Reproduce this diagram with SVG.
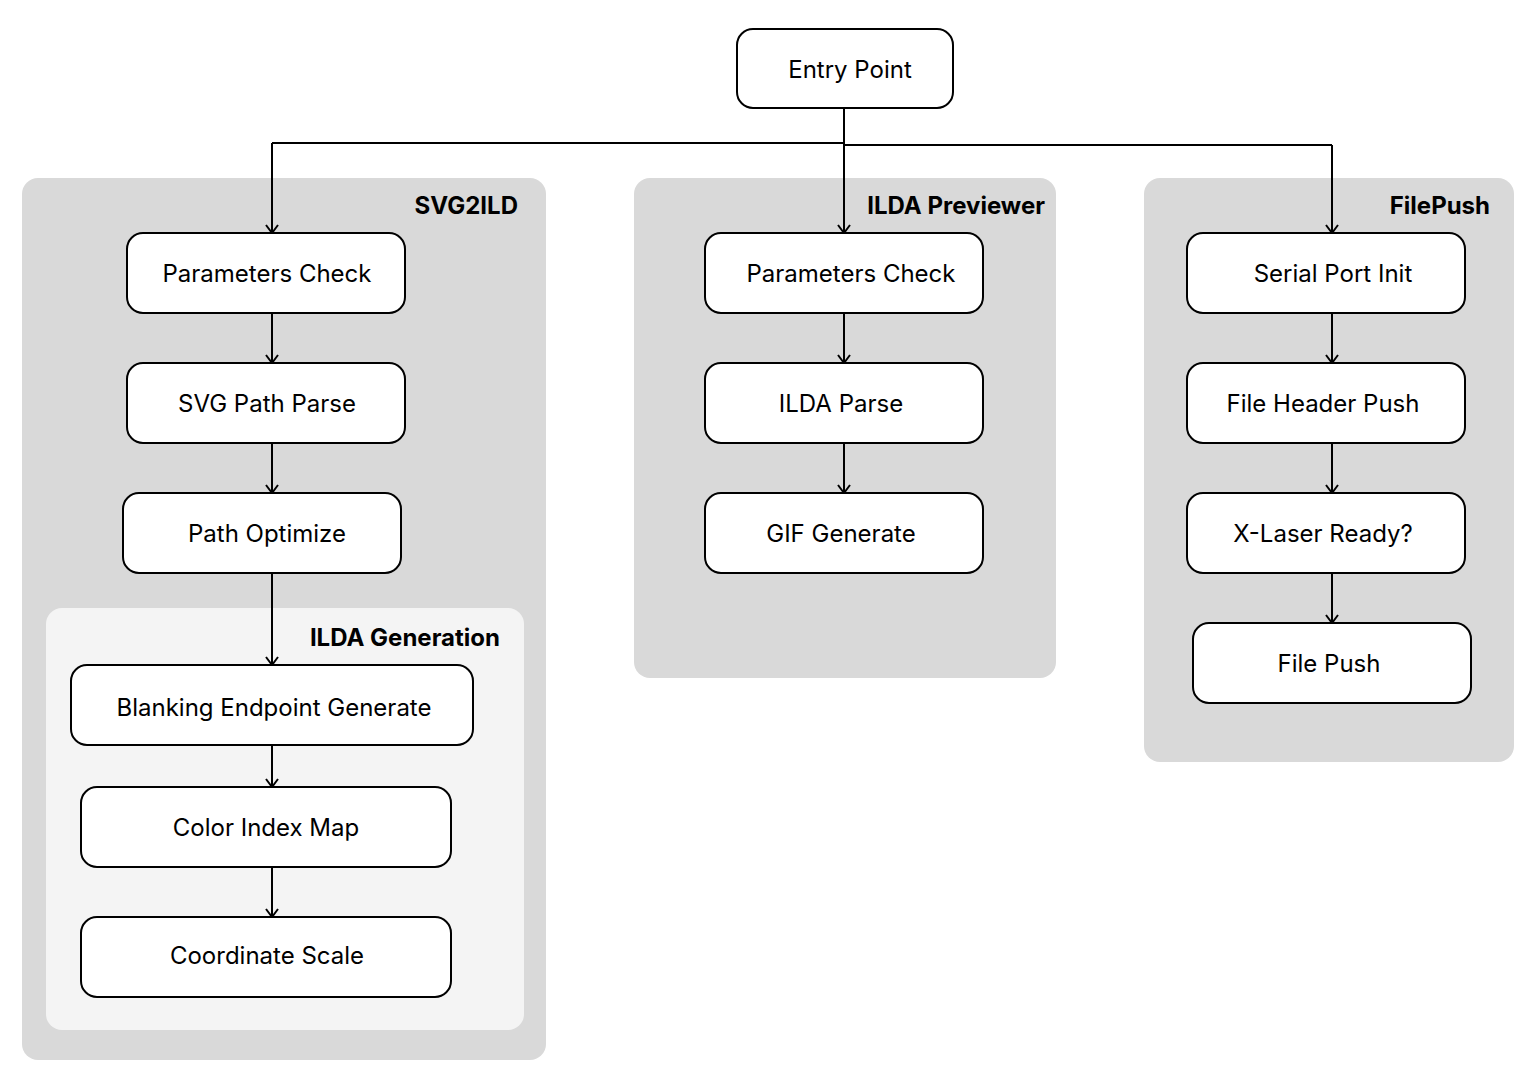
<svg xmlns="http://www.w3.org/2000/svg" width="1540" height="1088" viewBox="0 0 1540 1088">
<defs>
<marker id="arr" viewBox="0 0 10 14" refX="9" refY="7" markerWidth="10" markerHeight="14" markerUnits="userSpaceOnUse" orient="auto">
<path d="M1,1 L9,7 L1,13" fill="none" stroke="#000" stroke-width="2"/>
</marker>
<style>
.cl{fill:#d9d9d9}
.sub{fill:#f4f4f4}
.nd{fill:#fff;stroke:#000;stroke-width:2}
.lb{font-family:Inter,"Noto Sans","Liberation Sans",sans-serif;font-size:24px;fill:#000;text-anchor:middle}
.tt{font-family:Inter,"Noto Sans","Liberation Sans",sans-serif;font-size:24px;font-weight:bold;fill:#000;text-anchor:end}
.cn{fill:none;stroke:#000;stroke-width:2}
.ca{fill:none;stroke:#000;stroke-width:2;marker-end:url(#arr)}
</style>
</defs>
<rect width="1540" height="1088" fill="#fff"/>
<g id="cluster-svg2ild">
<rect class="cl" x="22" y="178" width="524" height="882" rx="16"/>
<text class="tt" x="518" y="214">SVG2ILD</text>
</g>
<g id="cluster-ilda-generation">
<rect class="sub" x="46" y="608" width="478" height="422" rx="16"/>
<text class="tt" x="500" y="646">ILDA Generation</text>
</g>
<g id="cluster-ilda-previewer">
<rect class="cl" x="634" y="178" width="422" height="500" rx="16"/>
<text class="tt" x="1045" y="214">ILDA Previewer</text>
</g>
<g id="cluster-filepush">
<rect class="cl" x="1144" y="178" width="370" height="584" rx="16"/>
<text class="tt" x="1490" y="214">FilePush</text>
</g>
<g id="connectors">
<path class="ca" d="M844,108 V233"/>
<path class="cn" d="M844,143 H272"/>
<path class="ca" d="M272,143 V233"/>
<path class="cn" d="M844,145 H1332"/>
<path class="ca" d="M1332,145 V233"/>
<path class="ca" d="M272,313 V363"/>
<path class="ca" d="M272,443 V493"/>
<path class="ca" d="M272,573 V665"/>
<path class="ca" d="M272,745 V787"/>
<path class="ca" d="M272,867 V917"/>
<path class="ca" d="M844,313 V363"/>
<path class="ca" d="M844,443 V493"/>
<path class="ca" d="M1332,313 V363"/>
<path class="ca" d="M1332,443 V493"/>
<path class="ca" d="M1332,573 V623"/>
</g>
<g id="node-entry-point">
<rect class="nd" x="737" y="29" width="216" height="79" rx="16"/>
<text class="lb" x="850" y="78">Entry Point</text>
</g>
<g id="node-svg2ild-parameters-check">
<rect class="nd" x="127" y="233" width="278" height="80" rx="16"/>
<text class="lb" x="267" y="282">Parameters Check</text>
</g>
<g id="node-svg-path-parse">
<rect class="nd" x="127" y="363" width="278" height="80" rx="16"/>
<text class="lb" x="267" y="412">SVG Path Parse</text>
</g>
<g id="node-path-optimize">
<rect class="nd" x="123" y="493" width="278" height="80" rx="16"/>
<text class="lb" x="267" y="542">Path Optimize</text>
</g>
<g id="node-blanking-endpoint-generate">
<rect class="nd" x="71" y="665" width="402" height="80" rx="16"/>
<text class="lb" x="274" y="716">Blanking Endpoint Generate</text>
</g>
<g id="node-color-index-map">
<rect class="nd" x="81" y="787" width="370" height="80" rx="16"/>
<text class="lb" x="266" y="836">Color Index Map</text>
</g>
<g id="node-coordinate-scale">
<rect class="nd" x="81" y="917" width="370" height="80" rx="16"/>
<text class="lb" x="267" y="964">Coordinate Scale</text>
</g>
<g id="node-previewer-parameters-check">
<rect class="nd" x="705" y="233" width="278" height="80" rx="16"/>
<text class="lb" x="851" y="282">Parameters Check</text>
</g>
<g id="node-ilda-parse">
<rect class="nd" x="705" y="363" width="278" height="80" rx="16"/>
<text class="lb" x="841" y="412">ILDA Parse</text>
</g>
<g id="node-gif-generate">
<rect class="nd" x="705" y="493" width="278" height="80" rx="16"/>
<text class="lb" x="841" y="542">GIF Generate</text>
</g>
<g id="node-serial-port-init">
<rect class="nd" x="1187" y="233" width="278" height="80" rx="16"/>
<text class="lb" x="1333" y="282">Serial Port Init</text>
</g>
<g id="node-file-header-push">
<rect class="nd" x="1187" y="363" width="278" height="80" rx="16"/>
<text class="lb" x="1323" y="412">File Header Push</text>
</g>
<g id="node-x-laser-ready">
<rect class="nd" x="1187" y="493" width="278" height="80" rx="16"/>
<text class="lb" x="1323" y="542">X-Laser Ready?</text>
</g>
<g id="node-file-push">
<rect class="nd" x="1193" y="623" width="278" height="80" rx="16"/>
<text class="lb" x="1329" y="672">File Push</text>
</g>
</svg>
